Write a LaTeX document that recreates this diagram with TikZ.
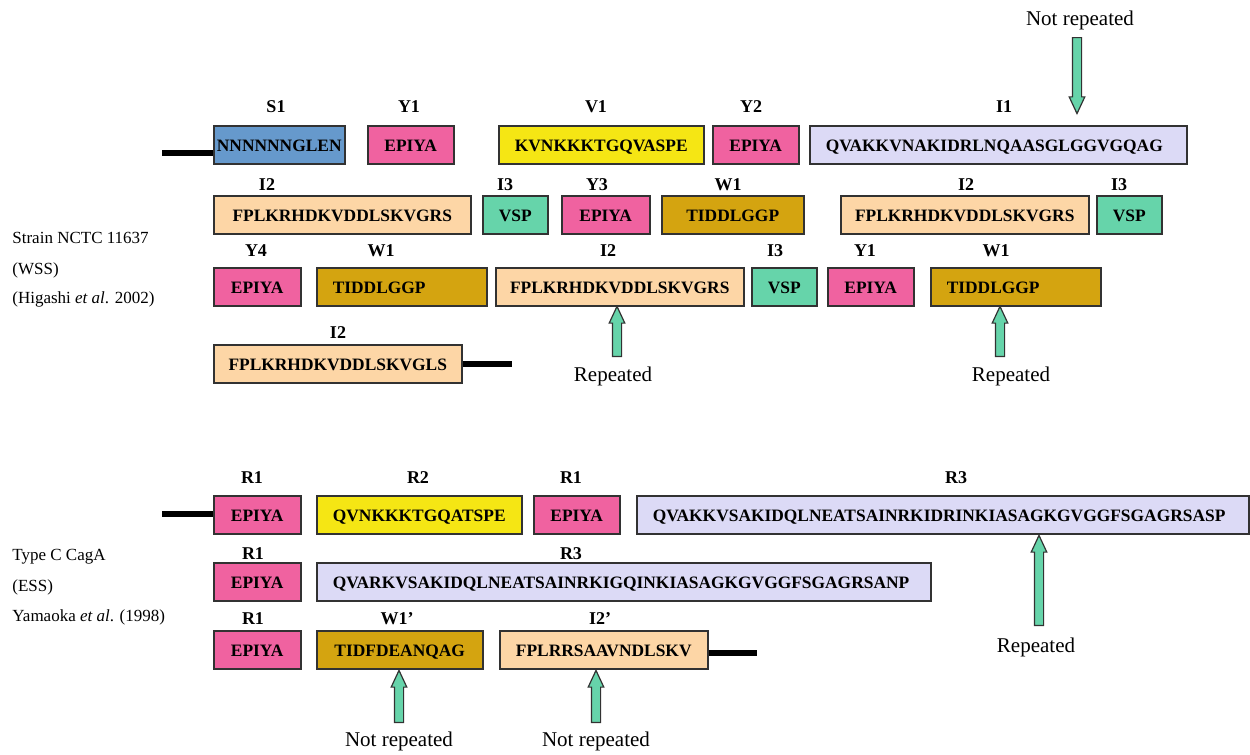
\documentclass[tikz,border=0pt]{standalone}
\usepackage{fontspec}
\setmainfont{Liberation Serif}
\usetikzlibrary{shapes.arrows}
\definecolor{segblue}{RGB}{102,153,204}
\definecolor{segpink}{RGB}{240,98,160}
\definecolor{segyellow}{RGB}{245,230,20}
\definecolor{seglav}{RGB}{220,218,246}
\definecolor{segpeach}{RGB}{253,214,166}
\definecolor{segvsp}{RGB}{102,212,170}
\definecolor{seggold}{RGB}{212,164,16}
\definecolor{segedge}{RGB}{50,50,50}
\tikzset{
  seg/.style={draw=segedge, line width=0.75pt, minimum height=19pt, inner xsep=1pt,
    inner ysep=0pt, anchor=west, font=\fontsize{8.7}{10}\selectfont\bfseries,
    text height=6pt, text depth=0pt},
  segw/.style={minimum width=#1*0.5pt},
  segl/.style={text width=#1, align=left, inner xsep=8pt},
  lab/.style={font=\fontsize{9}{10}\selectfont\bfseries},
  note/.style={font=\fontsize{10.5}{12}\selectfont},
  src/.style={font=\fontsize{8.5}{10}\selectfont, anchor=west, inner sep=0pt},
  tail/.style={line width=3pt},
  blk/.style={single arrow, draw=segedge, fill=segvsp, line width=0.6pt, inner xsep=0pt,
    inner ysep=2pt, single arrow head extend=1.6pt, single arrow tip angle=50, anchor=tail}
}
\begin{document}
\begin{tikzpicture}[x=0.5pt,y=-0.5pt]
      \useasboundingbox (0,0) rectangle (1250,755);
      % strain NCTC 11637 (WSS)
      \node[src] (st1) at (12,238) {Strain NCTC 11637};
      \node[src] (st2) at (12,270) {(WSS)};
      \node[src] (st3) at (12,299) {(Higashi \textit{et al}. 2002)};
      % row 1
      \node[seg, segw=131, fill=segblue] (s1) at (213,145) {NNNNNNGLEN};
      \node[seg, segw=86, fill=segpink] (y1) at (367,145) {EPIYA};
      \node[seg, segw=205, fill=segyellow] (v1) at (498,145) {KVNKKKTGQVASPE};
      \node[seg, segw=86, fill=segpink] (y2) at (712,145) {EPIYA};
      \node[seg, segl=172.5pt, fill=seglav] (i1) at (809,145) {QVAKKVNAKIDRLNQAASGLGGVGQAG};
      \foreach \nm/\x/\t in {ls1/276/S1,ly1/409/Y1,lv1/596/V1,ly2/751/Y2,li1/1004/I1}
        {\node[lab] (\nm) at (\x,107) {\t};}
      \coordinate (t1) at (162,153);
      \draw[tail] (t1) -- (t1 -| s1.west);
      % row 2
      \node[seg, segw=257, fill=segpeach] (i2a) at (213,215) {FPLKRHDKVDDLSKVGRS};
      \node[seg, segw=65, fill=segvsp] (i3a) at (482,215) {VSP};
      \node[seg, segw=88, fill=segpink] (y3) at (561,215) {EPIYA};
      \node[seg, segw=142, fill=seggold] (w1a) at (661,215) {TIDDLGGP};
      \node[seg, segw=248, fill=segpeach] (i2b) at (840,215) {FPLKRHDKVDDLSKVGRS};
      \node[seg, segw=65, fill=segvsp] (i3b) at (1096,215) {VSP};
      \foreach \nm/\x/\t in {li2a/267/I2,li3a/505/I3,ly3/597/Y3,lw1a/728/W1,li2b/966/I2,li3b/1119/I3}
        {\node[lab] (\nm) at (\x,185) {\t};}
      % row 3
      \node[seg, segw=87, fill=segpink] (y4) at (213,287) {EPIYA};
      \node[seg, segl=69pt, fill=seggold] (w1b) at (316,287) {TIDDLGGP};
      \node[seg, segw=248, fill=segpeach] (i2c) at (495,287) {FPLKRHDKVDDLSKVGRS};
      \node[seg, segw=65, fill=segvsp] (i3c) at (751,287) {VSP};
      \node[seg, segw=86, fill=segpink] (y1b) at (827,287) {EPIYA};
      \node[seg, segl=69pt, fill=seggold] (w1c) at (930,287) {TIDDLGGP};
      \foreach \nm/\x/\t in {ly4/256/Y4,lw1b/381/W1,li2c/608/I2,li3c/775/I3,ly1b/865/Y1,lw1c/996/W1}
        {\node[lab] (\nm) at (\x,251) {\t};}
      % row 4
      \node[seg, segw=248, fill=segpeach] (i2d) at (213,364) {FPLKRHDKVDDLSKVGLS};
      \node[lab] (li2d) at (338,333) {I2};
      \coordinate (t2) at (512,364);
      \draw[tail] (i2d.east) -- (t2);
      % repeated marks
      \node[note] (rp1) at (613,376) {Repeated};
      \node[blk, rotate=90, minimum height=25pt] (ar1) at (617,357) {};
      \node[note] (rp2) at (1011,376) {Repeated};
      \node[blk, rotate=90, minimum height=25pt] (ar2) at (1000,357) {};
      \node[note] (nr1) at (1080,20) {Not repeated};
      \node[blk, rotate=-90, minimum height=38pt] (ar3) at (1077,37) {};
      % type C CagA (ESS)
      \node[src] (ty1) at (12,557) {Type C CagA};
      \node[src] (ty2) at (12,587) {(ESS)};
      \node[src] (ty3) at (12,617) {Yamaoka \textit{et al}. (1998)};
      % row 5
      \node[seg, segw=87, fill=segpink] (r1a) at (213,515) {EPIYA};
      \node[seg, segw=205, fill=segyellow] (r2) at (316,515) {QVNKKKTGQATSPE};
      \node[seg, segw=86, fill=segpink] (r1b) at (533,515) {EPIYA};
      \node[seg, segl=290pt, fill=seglav] (r3a) at (636,515) {QVAKKVSAKIDQLNEATSAINRKIDRINKIASAGKGVGGFSGAGRSASP};
      \foreach \nm/\x/\t in {lr1a/252/R1,lr2/418/R2,lr1b/571/R1,lr3a/956/R3}
        {\node[lab] (\nm) at (\x,478) {\t};}
      \coordinate (t3) at (162,514);
      \draw[tail] (t3) -- (t3 -| r1a.west);
      % row 6
      \node[seg, segw=87, fill=segpink] (r1c) at (213,582) {EPIYA};
      \node[seg, segl=291pt, fill=seglav] (r3b) at (316,582) {QVARKVSAKIDQLNEATSAINRKIGQINKIASAGKGVGGFSGAGRSANP};
      \node[lab] (lr1c) at (253,554) {R1};
      \node[lab] (lr3b) at (571,554) {R3};
      % row 7
      \node[seg, segw=87, fill=segpink] (r1d) at (213,650) {EPIYA};
      \node[seg, segw=166, fill=seggold] (w1p) at (316,650) {TIDFDEANQAG};
      \node[seg, segw=208, fill=segpeach] (i2p) at (499,650) {FPLRRSAAVNDLSKV};
      \foreach \nm/\x/\t in {lr1d/253/R1,lw1p/397/W1',li2p/600/I2'}
        {\node[lab] (\nm) at (\x,619) {\t};}
      \coordinate (t4) at (757,653);
      \draw[tail] (t4 -| i2p.east) -- (t4);
      % repeated / not repeated marks
      \node[note] (rp3) at (1036,647) {Repeated};
      \node[blk, rotate=90, minimum height=45pt] (ar4) at (1039,626) {};
      \node[note] (nr2) at (399,741) {Not repeated};
      \node[blk, rotate=90, minimum height=26pt] (ar5) at (399,723) {};
      \node[note] (nr3) at (596,741) {Not repeated};
      \node[blk, rotate=90, minimum height=26pt] (ar6) at (596,723) {};
\end{tikzpicture}
\end{document}
